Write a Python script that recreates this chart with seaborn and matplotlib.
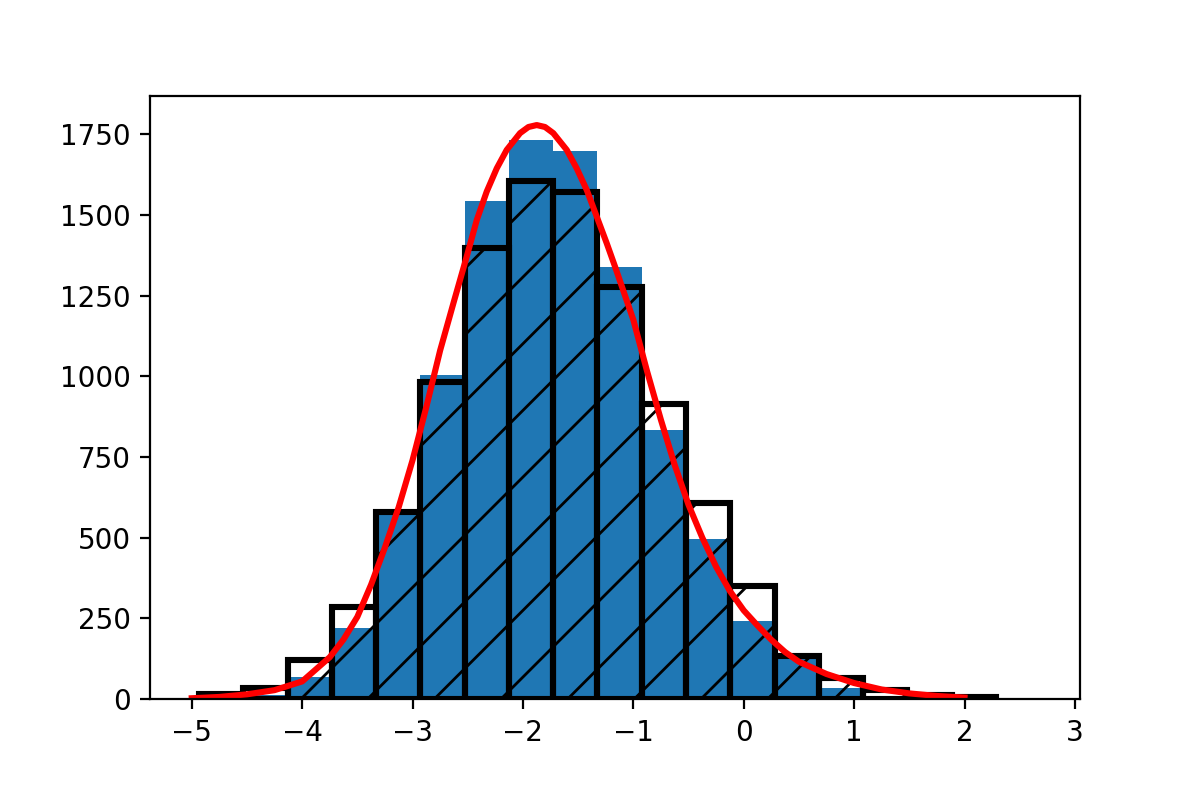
import matplotlib
matplotlib.use("Agg")
import matplotlib.pyplot as plt
import seaborn as sns
import pandas as pd

# bin edges shared by both histograms
bin_edges = [-4.934, -4.533, -4.132, -3.731, -3.330, -2.929, -2.528, -2.127, -1.726,
             -1.325, -0.923, -0.522, -0.121, 0.280, 0.681, 1.082, 1.483, 1.884, 2.285]

# filled blue histogram
blue_counts = [3, 12, 70, 222, 589, 1005, 1544, 1732, 1698,
               1338, 834, 495, 242, 130, 34, 8, 2, 1]

# black hatched histogram
black_counts = [15, 36, 120, 285, 581, 983, 1397, 1605, 1571,
                1275, 914, 609, 351, 134, 65, 28, 13, 6]

# red fitted curve
curve_x = [-5.0, -4.75, -4.5, -4.25, -4.0, -3.75, -3.625, -3.5, -3.375, -3.25, -3.125,
           -3.0, -2.875, -2.75, -2.625, -2.509, -2.418, -2.328, -2.237, -2.147, -2.026,
           -1.95, -1.875, -1.8, -1.725, -1.603, -1.513, -1.422, -1.332, -1.241, -1.166,
           -1.0, -0.875, -0.75, -0.625, -0.5, -0.375, -0.25, -0.125, 0.0, 0.125,
           0.25, 0.375, 0.5, 0.75, 1.0, 1.25, 1.5, 1.75, 2.0]
curve_y = [3, 7, 15, 28, 55, 130, 185, 255, 355, 470, 595,
           740, 905, 1080, 1232, 1371, 1484, 1572, 1644, 1701, 1753,
           1772, 1778, 1772, 1753, 1701, 1644, 1577, 1495, 1412, 1340,
           1175, 1015, 865, 725, 602, 500, 410, 335, 275, 228,
           184, 146, 116, 78, 50, 30, 18, 10, 5]

x_ticks = [-5, -4, -3, -2, -1, 0, 1, 2, 3]
y_ticks = [0, 250, 500, 750, 1000, 1250, 1500, 1750]

centers = [(bin_edges[i] + bin_edges[i + 1]) / 2 for i in range(len(bin_edges) - 1)]
hist_df = pd.DataFrame({"center": centers, "blue": blue_counts, "black": black_counts})

fig, ax = plt.subplots(figsize=(6, 4), dpi=200)
fig.subplots_adjust(left=0.125, right=0.9, bottom=0.126, top=0.88)

sns.histplot(data=hist_df, x="center", weights="blue", bins=bin_edges, color="#1f77b4",
             alpha=1.0, linewidth=0, edgecolor="none", ax=ax)
sns.histplot(data=hist_df, x="center", weights="black", bins=bin_edges, fill=False,
             color="black", alpha=1.0, linewidth=2.2, hatch="/", ax=ax)
sns.lineplot(x=curve_x, y=curve_y, color="red", linewidth=2.2, ax=ax)

ax.set_xlim(-5.378, 3.046)
ax.set_ylim(0, 1868)
ax.set_xticks(x_ticks)
ax.set_yticks(y_ticks)
ax.set_xlabel("")
ax.set_ylabel("")

plt.savefig("out.png", dpi=200)
plt.close()
